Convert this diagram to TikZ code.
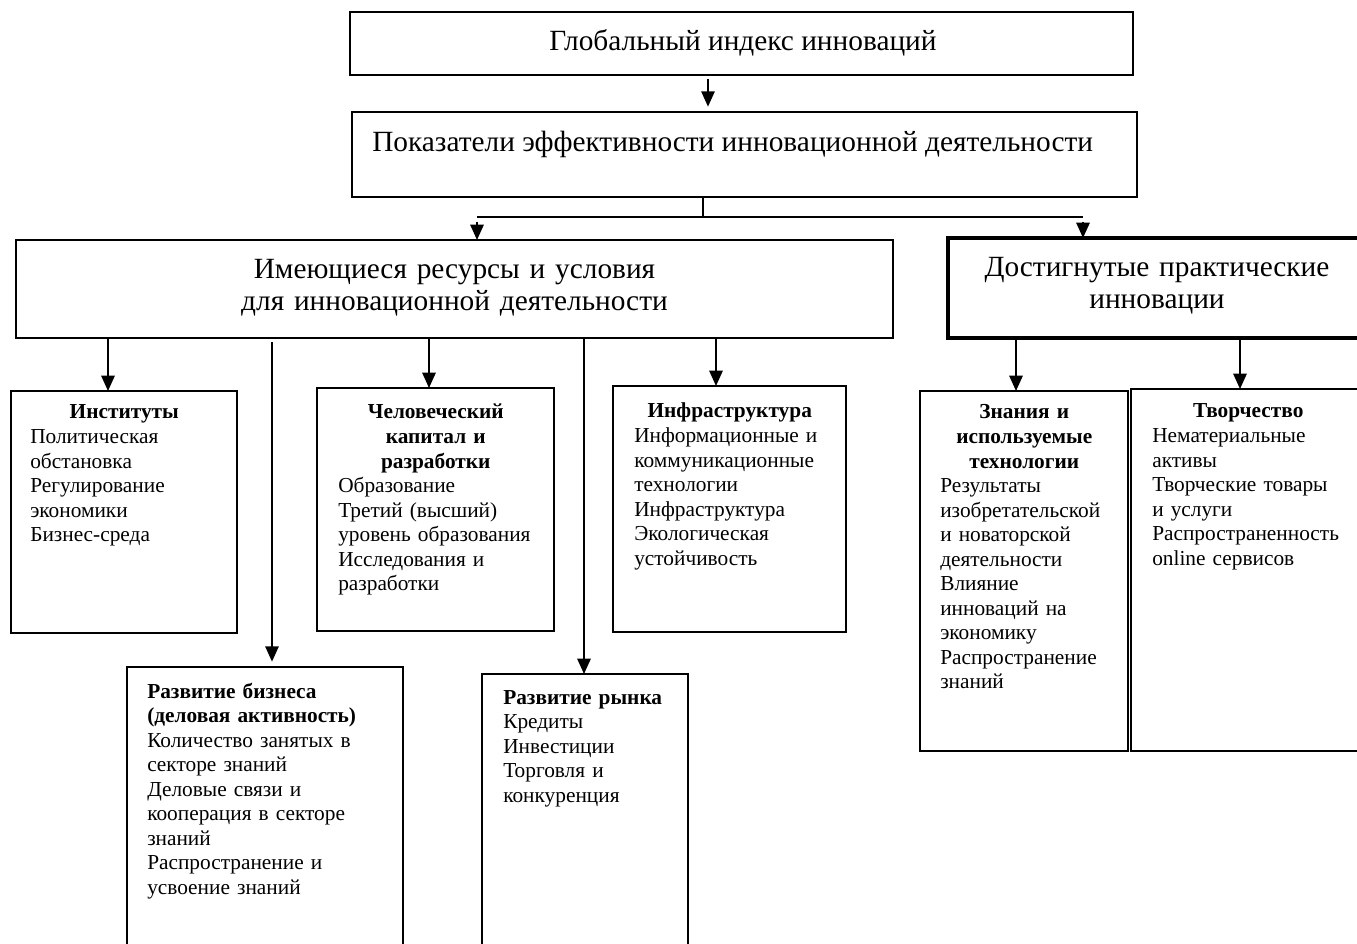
\documentclass[tikz,border=0pt]{standalone}
\usepackage{fontspec}
\setmainfont{Liberation Serif}
\usetikzlibrary{arrows.meta}
\begin{document}
\begin{tikzpicture}[x=0.75pt,y=-0.75pt,
  box/.style={draw, line width=1.1pt, rectangle, inner sep=0pt, outer sep=0pt, anchor=north west},
  thickbox/.style={box, line width=2.6pt},
  conn/.style={line width=1.4pt},
  arr/.style={conn, -{Triangle[width=10pt,length=11.5pt]}},
  big/.style={font=\fontsize{22}{24}\selectfont, inner sep=0pt},
  small/.style={font=\fontsize{16}{18.4}\selectfont, inner sep=0pt, anchor=base west},
]
\useasboundingbox (0,0) rectangle (1357,944);

% boxes
\node[box, minimum width=587.25pt, minimum height=47.25pt] (glob) at (350,12) {};
\node[box, minimum width=588.75pt, minimum height=63.75pt] (pok) at (352,112) {};
\node[box, minimum width=657.75pt, minimum height=73.5pt] (res) at (16,240) {};
\node[thickbox, minimum width=313.5pt, minimum height=75pt] (dost) at (948,238) {};
\node[box, minimum width=169.5pt, minimum height=181.5pt] (inst) at (11,391) {};
\node[box, minimum width=177.75pt, minimum height=182.25pt] (chel) at (317,388) {};
\node[box, minimum width=174.75pt, minimum height=184.5pt] (infra) at (613,386) {};
\node[box, minimum width=207pt, minimum height=225pt] (biz) at (127,667) {};
\node[box, minimum width=154.5pt, minimum height=217.5pt] (ryn) at (482,674) {};
\node[box, minimum width=156pt, minimum height=270pt] (znan) at (920,391) {};
\node[box, minimum width=176.25pt, minimum height=271.5pt] (tvor) at (1131,389) {};

% texts
\node[big, anchor=base] (globt) at (743,51) {Глобальный индекс инноваций};
\node[big, anchor=base west] (pokt) at (372,152) {Показатели эффективности инновационной деятельности};
\node[big, anchor=base, text width=645pt, align=center] (rest) at (454.5,279)
  {Имеющиеся ресурсы и условия\\для инновационной деятельности};
\node[big, anchor=base, text width=300pt, align=center] (dostt) at (1157,277)
  {Достигнутые практические\\инновации};

\node[small, text width=141pt] (instt) at (30,419)
  {\raggedright{\centering\bfseries Институты\par}Политическая\\обстановка\\Регулирование\\экономики\\Бизнес-среда};
\node[small, text width=146.25pt] (chelt) at (338,419)
  {\raggedright{\centering\bfseries Человеческий\\капитал и\\разработки\par}Образование\\Третий (высший)\\уровень образования\\Исследования и\\разработки};
\node[small, text width=143.25pt] (infrat) at (634,418)
  {\raggedright{\centering\bfseries Инфраструктура\par}Информационные и\\коммуникационные\\технологии\\Инфраструктура\\Экологическая\\устойчивость};
\node[small, text width=177pt] (bizt) at (147,698)
  {\raggedright{\bfseries Развитие бизнеса\\(деловая активность)\par}Количество занятых в\\секторе знаний\\Деловые связи и\\кооперация в секторе\\знаний\\Распространение и\\усвоение знаний};
\node[small, text width=123.75pt] (rynt) at (503,704)
  {\raggedright{\bfseries Развитие рынка\par}Кредиты\\Инвестиции\\Торговля и\\конкуренция};
\node[small, text width=126pt] (znant) at (940,419)
  {\raggedright{\centering\bfseries Знания и\\используемые\\технологии\par}Результаты\\изобретательской\\и новаторской\\деятельности\\Влияние\\инноваций на\\экономику\\Распространение\\знаний};
\node[small, text width=144pt] (tvort) at (1152,418)
  {\raggedright{\centering\bfseries Творчество\par}Нематериальные\\активы\\Творческие товары\\и услуги\\Распространенность\\online сервисов};

% connector positions
\coordinate (xg) at (708,0);
\coordinate (sp) at (703,217);
\coordinate (spL) at (477,217);
\coordinate (spR) at (1083,217);
\coordinate (xinst) at (108,0);
\coordinate (xbiz) at (272,0);
\coordinate (xchel) at (429,0);
\coordinate (xryn) at (584,0);
\coordinate (xinfra) at (716,0);
\coordinate (xznan) at (1016,0);
\coordinate (xtvor) at (1240,0);

% connectors
\draw[arr, shorten <=3pt, shorten >=4pt] (glob.south -| xg) -- (pok.north -| xg);
\draw[conn] (pok.south -| sp) -- (sp);
\draw[conn] (spL) -- (spR);
\draw[arr, shorten <=4pt] (spL) -- (res.north -| spL);
\draw[arr, shorten <=4pt] (spR) -- (dost.north -| spR);
\draw[arr] (res.south -| xinst) -- (inst.north -| xinst);
\draw[arr, shorten <=3pt, shorten >=4pt] (res.south -| xbiz) -- (biz.north -| xbiz);
\draw[arr] (res.south -| xchel) -- (chel.north -| xchel);
\draw[arr] (res.south -| xryn) -- (ryn.north -| xryn);
\draw[arr] (res.south -| xinfra) -- (infra.north -| xinfra);
\draw[arr] (dost.south -| xznan) -- (znan.north -| xznan);
\draw[arr] (dost.south -| xtvor) -- (tvor.north -| xtvor);
\end{tikzpicture}
\end{document}
